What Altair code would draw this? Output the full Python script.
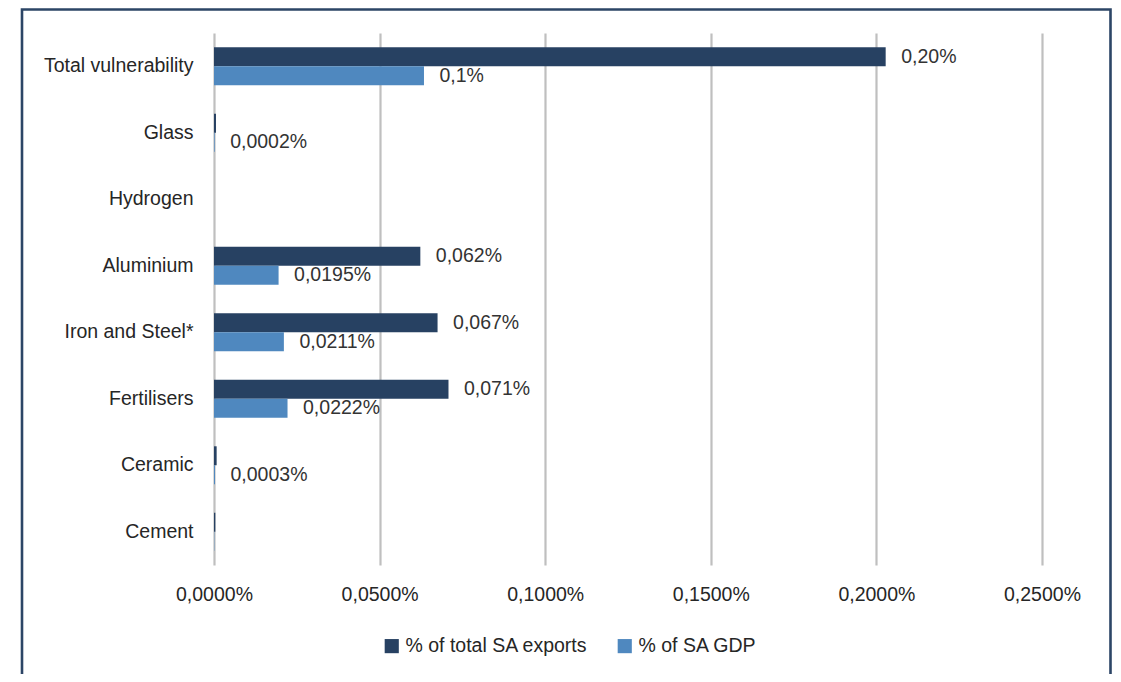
import altair as alt
import pandas as pd

categories = ["Total vulnerability", "Glass", "Hydrogen", "Aluminium",
              "Iron and Steel*", "Fertilisers", "Ceramic", "Cement"]
series_names = ["% of total SA exports", "% of SA GDP"]
exports_vals = [0.2028, 0.0006, 0.0, 0.0623, 0.0675, 0.0708, 0.0008, 0.0004]
gdp_vals = [0.0634, 0.0002, 0.0, 0.0195, 0.0211, 0.0222, 0.0003, 0.0001]
exports_labels = ["0,20%", "", "", "0,062%", "0,067%", "0,071%", "", ""]
gdp_labels = ["0,1%", "0,0002%", "", "0,0195%", "0,0211%", "0,0222%", "0,0003%", ""]
tick_values = [0, 0.05, 0.10, 0.15, 0.20, 0.25]
colors = ["#274162", "#4F88BF"]

rows = []
for i, c in enumerate(categories):
    rows.append({"category": c, "series": series_names[0], "value": exports_vals[i], "label": exports_labels[i]})
    rows.append({"category": c, "series": series_names[1], "value": gdp_vals[i], "label": gdp_labels[i]})
df = pd.DataFrame(rows)

FONT = "Liberation Sans, Arial, sans-serif"
FS = 19.5
TXT = "#262626"

y_enc = alt.Y("category:N", sort=categories,
              scale=alt.Scale(paddingInner=0.43, paddingOuter=0.215),
              axis=alt.Axis(title=None, domain=False, ticks=False, tickSize=0,
                            labelFont=FONT, labelFontSize=FS, labelColor=TXT,
                            labelPadding=21, labelLimit=0, grid=False))
yoff_enc = alt.YOffset("series:N", sort=series_names, scale=alt.Scale(paddingInner=0, paddingOuter=0))
x_enc = alt.X("value:Q", scale=alt.Scale(domain=[0, 0.25], nice=False),
              axis=alt.Axis(title=None, values=tick_values, domain=False, ticks=False, tickSize=0,
                            labelExpr="replace(format(datum.value, '.4f'), '.', ',') + '%'",
                            labelFont=FONT, labelFontSize=FS, labelColor=TXT, labelPadding=20,
                            labelFlush=False, labelOverlap=False, labelLimit=0,
                            grid=True, gridColor="#BFBFBF", gridWidth=2.2))

base = alt.Chart(df)
bars = base.mark_bar().encode(
    y=y_enc, yOffset=yoff_enc, x=x_enc,
    color=alt.Color("series:N", sort=series_names,
                    scale=alt.Scale(domain=series_names, range=colors),
                    legend=alt.Legend(title=None, orient="none", legendX=168, legendY=603,
                                      direction="horizontal", columns=2, symbolType="square",
                                      symbolSize=200, symbolStrokeWidth=0, labelFont=FONT,
                                      labelFontSize=FS, labelColor=TXT, labelOffset=4,
                                      labelLimit=0, columnPadding=27, padding=0))
)
text = base.mark_text(align="left", baseline="middle", dx=15.5, font=FONT, fontSize=FS, color="#333333").encode(
    y=alt.Y("category:N", sort=categories), yOffset=alt.YOffset("series:N", sort=series_names),
    x="value:Q", text="label:N"
)

frame = alt.Chart(pd.DataFrame({"k": [0]})).mark_rect(
    fill="transparent", stroke="#2C4566", strokeWidth=2.6
).encode(x=alt.value(-192), x2=alt.value(896.5), y=alt.value(-23.5), y2=alt.value(700))

chart = alt.layer(frame, bars, text).properties(
    width=828, height=532,
    autosize=alt.AutoSizeParams(type="none"),
    padding={"left": 206, "top": 25, "right": 71, "bottom": 109},
).configure_view(strokeWidth=0).resolve_scale(y="shared")

chart.save("out.html", embed_options={"renderer": "svg", "actions": False})
